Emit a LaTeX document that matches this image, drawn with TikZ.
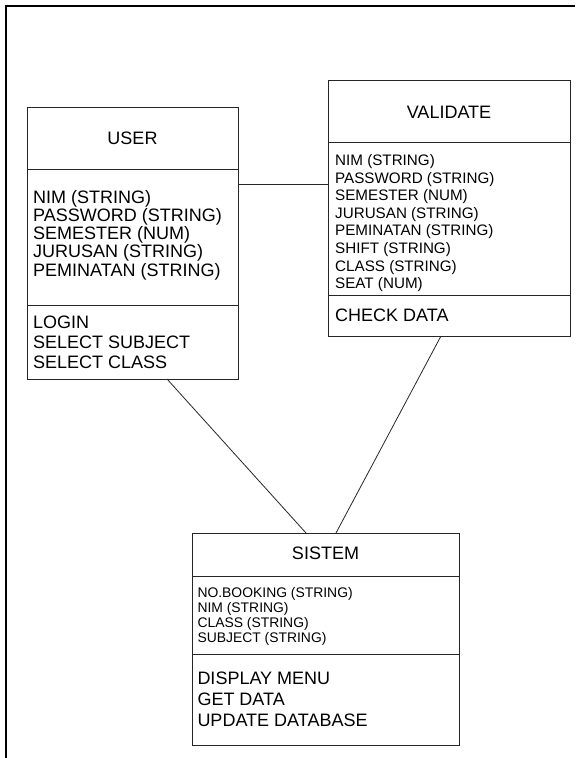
\documentclass[tikz,border=0pt]{standalone}
\usepackage{fontspec}
\setmainfont{Liberation Sans}
\usetikzlibrary{calc}
\tikzset{
  classbox/.style={draw=black!85, line width=0.8pt, rectangle, inner sep=0pt, outer sep=0pt, anchor=north west},
  divider/.style={draw=black!85, line width=0.8pt},
  conn/.style={draw=black!85, line width=0.8pt},
  big/.style={font=\fontsize{18}{20}\selectfont, inner sep=0pt, anchor=base west},
  title/.style={font=\fontsize{18}{20}\selectfont, inner sep=0pt, anchor=base},
  mid/.style={font=\fontsize{15.2}{17}\selectfont, inner sep=0pt, anchor=base west},
  small/.style={font=\fontsize{13.9}{15}\selectfont, inner sep=0pt, anchor=base west},
}
\begin{document}
\begin{tikzpicture}[x=1pt,y=1pt]
\useasboundingbox (0,0) rectangle (582,-758);
% frame
\draw[line width=2pt] (6,-758) -- (6,-6) -- (575,-6);

% USER
\node[classbox, minimum width=211pt, minimum height=272pt] (user) at (27,-107) {};
\draw[divider] ($(user.north west)+(0,-62)$) -- ($(user.north east)+(0,-62)$);
\draw[divider] ($(user.north west)+(0,-198)$) -- ($(user.north east)+(0,-198)$);
\node[title] (usert) at (132.5,-144.7) {USER};
\foreach \t [count=\i from 0] in {NIM (STRING),PASSWORD (STRING),SEMESTER (NUM),JURUSAN (STRING),PEMINATAN (STRING)}
  \node[big] (ua\i) at (33,{-203-18.3*\i}) {\t};
\foreach \t [count=\i from 0] in {LOGIN,SELECT SUBJECT,SELECT CLASS}
  \node[big] (um\i) at (33,{-328-20*\i}) {\t};

% VALIDATE
\node[classbox, minimum width=242pt, minimum height=256pt] (validate) at (328,-80) {};
\draw[divider] ($(validate.north west)+(0,-62)$) -- ($(validate.north east)+(0,-62)$);
\draw[divider] ($(validate.north west)+(0,-215)$) -- ($(validate.north east)+(0,-215)$);
\node[title] (validatet) at (449,-118) {VALIDATE};
\foreach \t [count=\i from 0] in {NIM (STRING),PASSWORD (STRING),SEMESTER (NUM),JURUSAN (STRING),PEMINATAN (STRING),SHIFT (STRING),CLASS (STRING),SEAT (NUM)}
  \node[mid] (va\i) at (335,{-165.5-17.6*\i}) {\t};
\node[big] (vm0) at (335,-321.5) {CHECK DATA};

% SISTEM
\node[classbox, minimum width=267pt, minimum height=212pt] (sistem) at (192,-533) {};
\draw[divider] ($(sistem.north west)+(0,-43)$) -- ($(sistem.north east)+(0,-43)$);
\draw[divider] ($(sistem.north west)+(0,-121)$) -- ($(sistem.north east)+(0,-121)$);
\node[title] (sistemt) at (325.5,-559.3) {SISTEM};
\foreach \t [count=\i from 0] in {NO.BOOKING (STRING),NIM (STRING),CLASS (STRING),SUBJECT (STRING)}
  \node[small] (sa\i) at (197.3,{-597-15.1*\i}) {\t};
\foreach \t [count=\i from 0] in {DISPLAY MENU,GET DATA,UPDATE DATABASE}
  \node[big] (sm\i) at (197.3,{-684.8-21*\i}) {\t};

% connectors
\draw[conn] ($(user.north east)+(0,-77)$) -- ($(validate.north west)+(0,-104)$);
\draw[conn] ($(user.south west)+(140,0)$) -- ($(sistem.north west)+(114,0)$);
\draw[conn] ($(validate.south west)+(113,0)$) -- ($(sistem.north west)+(144,0)$);
\end{tikzpicture}
\end{document}
